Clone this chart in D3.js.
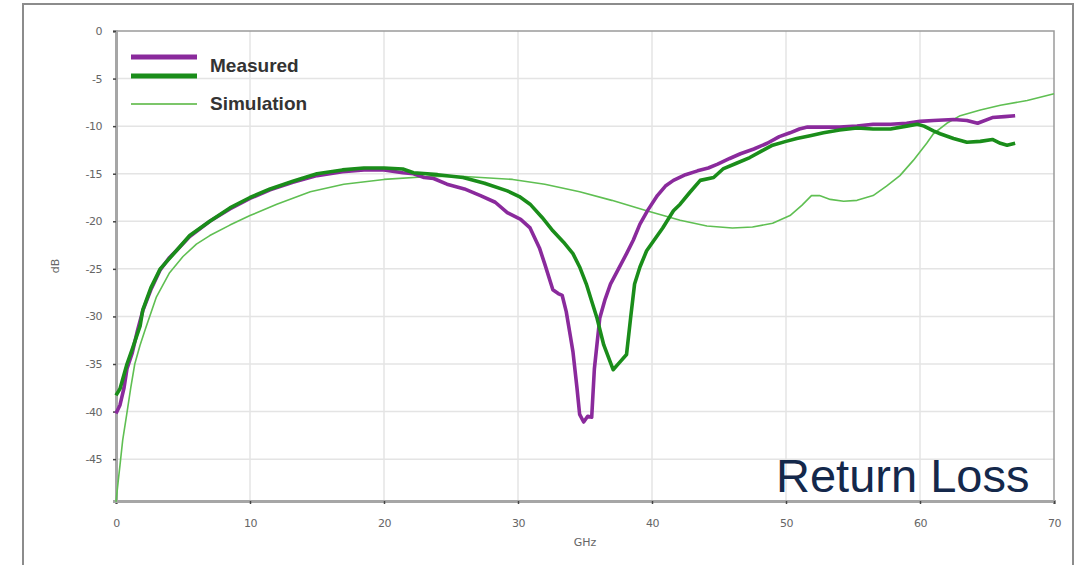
<!DOCTYPE html>
<html>
<head>
<meta charset="utf-8">
<script src="https://cdn.jsdelivr.net/npm/d3@7"></script>
<style>
  body { margin: 0; background: #fff; }
  svg { display: block; font-family: "Liberation Sans", Arial, sans-serif; }
</style>
</head>
<body>
<svg id="chart" width="1079" height="565"></svg>
<script>
// frequency (GHz) / return loss (dB)
var purpleF = [0,0.3,0.6,0.82,1.2,1.6,2.0,2.6,3.3,4.0,4.5,5.5,7.0,8.5,10.0,11.5,13.2,15.0,16.9,18.5,20.0,21.4,22.2,23.0,23.7,24.7,26.0,27.2,28.3,29.2,30.2,30.9,31.6,32.0,32.6,33.0,33.3,33.6,33.9,34.1,34.4,34.6,34.9,35.2,35.5,35.7,36.1,36.5,36.9,37.5,38.1,38.6,39.1,39.7,40.4,41.0,41.6,42.5,43.4,44.2,44.9,45.8,46.6,47.6,48.6,49.5,50.3,51.0,51.6,52.8,54.0,55.3,56.5,57.8,59.0,60.0,61.0,62.5,63.5,64.3,65.4,66.3,67.1];
var purpleDb = [-40.2,-39.3,-37.5,-35.5,-33.9,-31.5,-29.4,-27.2,-25.1,-23.8,-23.1,-21.6,-20.0,-18.7,-17.6,-16.7,-15.9,-15.2,-14.8,-14.6,-14.6,-14.9,-15.0,-15.4,-15.5,-16.1,-16.6,-17.3,-18.0,-19.1,-19.8,-20.7,-22.8,-24.5,-27.2,-27.6,-27.8,-29.5,-32.0,-33.7,-37.5,-40.3,-41.1,-40.5,-40.6,-35.5,-30.2,-28.2,-26.6,-25.0,-23.4,-22.0,-20.3,-18.8,-17.3,-16.3,-15.7,-15.1,-14.7,-14.4,-14.0,-13.4,-12.9,-12.4,-11.8,-11.1,-10.7,-10.3,-10.1,-10.1,-10.1,-10.0,-9.8,-9.8,-9.7,-9.5,-9.4,-9.3,-9.4,-9.7,-9.1,-9.0,-8.9];

var greenF = [0,0.3,0.82,1.2,1.8,2.0,2.6,3.3,4.5,5.5,7.0,8.5,10.0,11.5,13.2,15.0,16.9,18.5,20.0,21.4,22.2,24.0,25.9,27.5,29.2,30.1,30.9,31.8,32.6,33.4,34.1,34.6,35.1,35.5,35.9,36.4,37.1,37.6,38.1,38.4,38.7,39.1,39.6,40.1,40.8,41.6,42.1,42.8,43.6,44.6,45.3,46.3,47.3,48.2,49.0,50.0,50.8,51.8,52.8,54.0,55.3,56.5,57.8,59.0,59.8,60.3,61.0,61.5,62.5,63.5,64.5,65.4,66.0,66.5,67.1];
var greenDb = [-38.3,-37.6,-35.0,-33.5,-31.0,-29.3,-27.0,-25.0,-23.1,-21.5,-20.0,-18.6,-17.5,-16.6,-15.8,-15.0,-14.6,-14.4,-14.4,-14.5,-14.9,-15.1,-15.4,-16.0,-16.8,-17.4,-18.2,-19.6,-21.0,-22.2,-23.4,-24.8,-26.6,-28.4,-30.2,-33.0,-35.6,-34.8,-34.0,-30.2,-26.6,-24.8,-23.1,-22.1,-20.7,-18.9,-18.2,-17.0,-15.7,-15.4,-14.5,-13.9,-13.3,-12.6,-12.0,-11.6,-11.3,-11.0,-10.7,-10.4,-10.2,-10.3,-10.3,-10.0,-9.8,-10.0,-10.5,-10.8,-11.3,-11.7,-11.6,-11.4,-11.8,-12.0,-11.8];

var simF = [0,0.15,0.3,0.5,0.8,1.1,1.4,1.8,2.2,3.0,4.0,5.0,6.0,7.0,8.5,10.0,12.0,14.5,17.0,20.0,23.4,26.0,29.6,32.0,34.6,37.0,39.6,42.1,44.1,46.0,47.5,49.0,50.3,51.2,51.9,52.5,53.3,54.3,55.3,56.5,57.5,58.5,59.5,60.5,61.0,62.0,63.0,64.5,66.0,68.0,70.0];
var simDb = [-49.5,-47.5,-45.6,-43.0,-40.3,-37.5,-35.0,-33.0,-31.3,-28.0,-25.4,-23.7,-22.4,-21.5,-20.4,-19.4,-18.2,-16.9,-16.1,-15.6,-15.3,-15.3,-15.6,-16.1,-16.9,-17.8,-18.9,-19.9,-20.5,-20.7,-20.6,-20.2,-19.4,-18.3,-17.3,-17.3,-17.7,-17.9,-17.8,-17.3,-16.3,-15.2,-13.6,-11.8,-10.8,-9.7,-8.9,-8.3,-7.8,-7.3,-6.6];

var xTicks = [0,10,20,30,40,50,60,70];
var yTicks = [0,-5,-10,-15,-20,-25,-30,-35,-40,-45];
var legendNames = ["Measured", "Simulation"];

var svg = d3.select("#chart");

var plotLeft = 116, plotRight = 1054, plotTop = 31, plotBottom = 501;

var x = d3.scaleLinear().domain([0, 70]).range([plotLeft, plotRight]);
var y = d3.scaleLinear().domain([-49.4, 0]).range([plotBottom, plotTop]);

// outer frame
svg.append("rect")
  .attr("x", 23).attr("y", 4)
  .attr("width", 1050).attr("height", 580)
  .attr("fill", "none")
  .attr("stroke", "#8c8c8c")
  .attr("stroke-width", 2);

// grid
svg.append("g").selectAll("line")
  .data(xTicks.slice(1, -1))
  .enter().append("line")
  .attr("x1", function(d) { return x(d); })
  .attr("x2", function(d) { return x(d); })
  .attr("y1", plotTop).attr("y2", plotBottom)
  .attr("stroke", "#e4e4e4").attr("stroke-width", 1.5);

svg.append("g").selectAll("line")
  .data(yTicks.slice(1))
  .enter().append("line")
  .attr("x1", plotLeft).attr("x2", plotRight)
  .attr("y1", function(d) { return y(d); })
  .attr("y2", function(d) { return y(d); })
  .attr("stroke", "#e4e4e4").attr("stroke-width", 1.5);

// plot border top / right
svg.append("path")
  .attr("d", "M" + plotLeft + "," + plotTop + "H" + plotRight + "V" + plotBottom)
  .attr("fill", "none")
  .attr("stroke", "#9a9a9a")
  .attr("stroke-width", 1.5);

// axes - plain hyphen minus like the original
var plainFmt = function(d) { return String(d); };
var xAxis = svg.append("g")
  .attr("transform", "translate(0," + plotBottom + ")")
  .call(d3.axisBottom(x).tickValues(xTicks).tickFormat(plainFmt).tickSize(3).tickPadding(15));
var yAxis = svg.append("g")
  .attr("transform", "translate(" + plotLeft + ",0)")
  .call(d3.axisLeft(y).tickValues(yTicks).tickFormat(plainFmt).tickSize(3).tickPadding(11));

[xAxis, yAxis].forEach(function(a) {
  a.select(".domain").attr("stroke", "#a6a6a6").attr("stroke-width", 3);
  a.selectAll(".tick line").attr("stroke", "#444").attr("stroke-width", 1.5);
  a.selectAll(".tick text")
    .attr("fill", "#666")
    .style("font-size", "11px")
    .style("font-family", "'DejaVu Sans', sans-serif")
    .style("letter-spacing", "-0.5px");
});

svg.append("text")
  .attr("x", (plotLeft + plotRight) / 2).attr("y", 546)
  .attr("text-anchor", "middle")
  .attr("fill", "#666")
  .style("font-size", "11px")
  .style("font-family", "'DejaVu Sans', sans-serif")
  .text("GHz");

svg.append("text")
  .attr("transform", "translate(59," + (plotTop + plotBottom) / 2 + ") rotate(-90)")
  .attr("text-anchor", "middle")
  .attr("fill", "#666")
  .style("font-size", "11px")
  .style("font-family", "'DejaVu Sans', sans-serif")
  .text("dB");

// curves
var line = d3.line()
  .x(function(d) { return x(d[0]); })
  .y(function(d) { return y(d[1]); })
  .curve(d3.curveLinear);

function drawSeries(fs, dbs, color, width) {
  svg.append("path")
    .datum(d3.zip(fs, dbs))
    .attr("d", line)
    .attr("fill", "none")
    .attr("stroke", color)
    .attr("stroke-width", width)
    .attr("stroke-linejoin", "round");
}

drawSeries(simF, simDb, "#5fbf52", 1.6);
drawSeries(purpleF, purpleDb, "#8a2a9c", 3.6);
drawSeries(greenF, greenDb, "#1a8d1a", 3.6);

// legend
var leg = svg.append("g");
leg.append("line").attr("x1", 131).attr("x2", 197).attr("y1", 57).attr("y2", 57)
  .attr("stroke", "#8a2a9c").attr("stroke-width", 5);
leg.append("line").attr("x1", 131).attr("x2", 197).attr("y1", 76).attr("y2", 76)
  .attr("stroke", "#1a8d1a").attr("stroke-width", 5);
leg.append("line").attr("x1", 131).attr("x2", 197).attr("y1", 104).attr("y2", 104)
  .attr("stroke", "#7cc66a").attr("stroke-width", 2);
leg.selectAll("text")
  .data(legendNames)
  .enter().append("text")
  .attr("x", 210)
  .attr("y", function(d, i) { return i === 0 ? 72 : 110; })
  .attr("fill", "#333")
  .style("font-size", "19px")
  .style("font-weight", "bold")
  .text(function(d) { return d; });

svg.append("text")
  .attr("x", 776).attr("y", 492)
  .attr("fill", "#14284b")
  .style("font-size", "47px")
  .text("Return Loss");
</script>
</body>
</html>
